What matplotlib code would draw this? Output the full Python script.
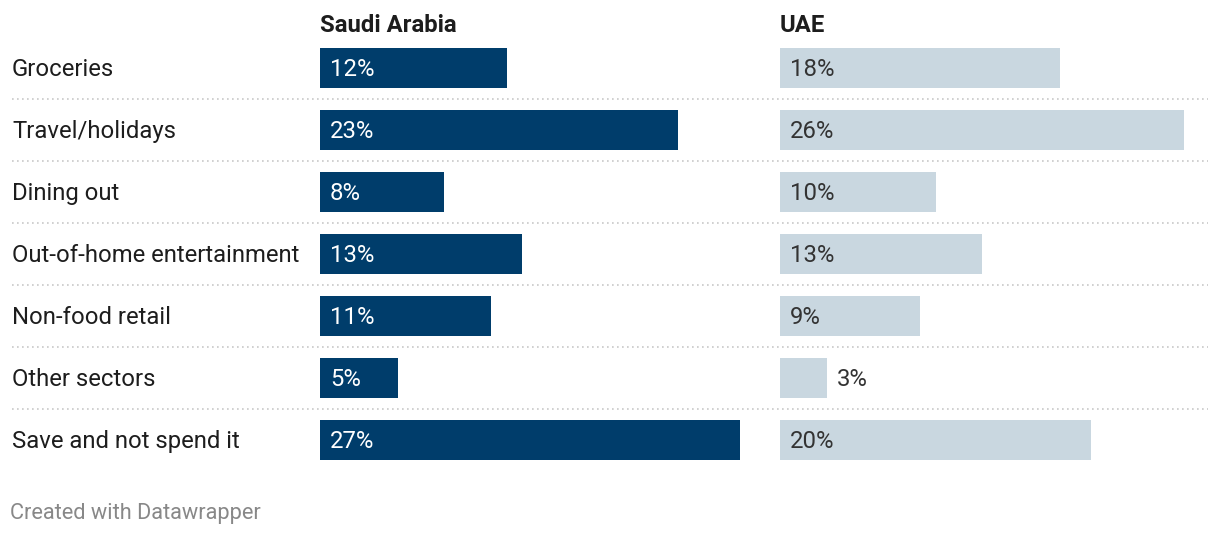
import matplotlib.pyplot as plt

plt.rcParams['font.family'] = ['Roboto', 'DejaVu Sans']

categories = ["Groceries", "Travel/holidays", "Dining out", "Out-of-home entertainment",
              "Non-food retail", "Other sectors", "Save and not spend it"]
saudi = [12, 23, 8, 13, 11, 5, 27]
uae = [18, 26, 10, 13, 9, 3, 20]

W, H = 1220, 536
PX_PER_PCT = 15.55
ROW = 62
TOP = 37  # top of first row in px

dark = "#003d6b"
light = "#c9d7e0"
n = len(categories)
FS = 17.2

fig = plt.figure(figsize=(W / 100, H / 100), dpi=100)


def axes_px(x0, x1):
    return fig.add_axes([x0 / W, 1 - (TOP + n * ROW) / H, (x1 - x0) / W, n * ROW / H])


# background axes for labels and separators
bg = axes_px(12, 1208)
bg.set_xlim(0, 1)
bg.set_ylim(n - 0.5, -0.5)
bg.axis("off")
for i in range(n - 1):
    bg.axhline(i + 0.5, color="#c8c8c8", lw=1.2, ls=(0, (1, 2)))
for i, c in enumerate(categories):
    bg.text(0, i + 0.02, c, ha="left", va="center", fontsize=FS, color="#1d1d1d")

panels = [(320, 760, saudi, dark, "white", "Saudi Arabia"),
          (780, 1208, uae, light, "#333333", "UAE")]
for x0, x1, vals, col, tcol, title in panels:
    ax = axes_px(x0, x1)
    ax.set_xlim(0, (x1 - x0) / PX_PER_PCT)
    ax.set_ylim(n - 0.5, -0.5)
    ax.axis("off")
    ax.barh(range(n), vals, height=40 / ROW, color=col, left=0)
    for i, v in enumerate(vals):
        if v >= 4:
            ax.text(10 / PX_PER_PCT, i + 0.02, f"{v}%", ha="left", va="center",
                    fontsize=FS, color=tcol)
        else:
            ax.text(v + 10 / PX_PER_PCT, i + 0.02, f"{v}%", ha="left", va="center",
                    fontsize=FS, color="#333333")
    fig.text(x0 / W, 1 - 25 / H, title, ha="left", va="center", fontsize=FS,
             fontweight="bold", color="#1d1d1d")

fig.text(10 / W, 1 - 513 / H, "Created with Datawrapper", ha="left", va="center",
         fontsize=15.7, color="#888888")

fig.savefig("out.png", dpi=100)
